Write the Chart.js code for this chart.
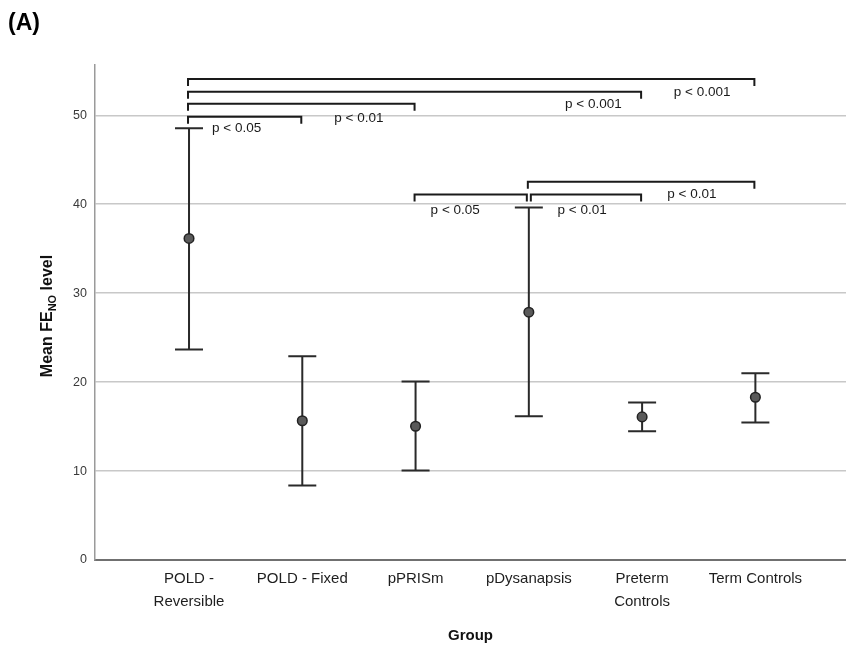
<!DOCTYPE html>
<html><head><meta charset="utf-8">
<script src="https://cdn.jsdelivr.net/npm/chart.js@4.4.0/dist/chart.umd.min.js"></script>
<style>html,body{margin:0;padding:0;background:#fff;overflow:hidden}canvas{display:block}</style>
</head><body>
<canvas id="c" width="846" height="647" style="width:846px;height:647px"></canvas>
<script>
// ---- data ----
const categories = [["POLD -", "Reversible"], "POLD - Fixed", "pPRISm", "pDysanapsis", ["Preterm", "Controls"], "Term Controls"];
const means = [36.15, 15.66, 15.04, 27.86, 16.09, 18.30];
const upper = [48.53, 22.91, 20.07, 39.64, 17.71, 21.00];
const lower = [23.67, 8.37, 10.06, 16.16, 14.48, 15.46];
const yTicks = [0, 10, 20, 30, 40, 50];
// significance brackets (category indices, bracket height, label, label anchor)
const bracketFrom = [0, 0, 0, 0, 2, 3, 3];
const bracketTo = [5, 4, 2, 1, 3, 4, 5];
const bracketLevel = [54.07, 52.64, 51.30, 49.83, 41.10, 41.10, 42.52];
const bracketLabels = ["p < 0.001", "p < 0.001", "p < 0.01", "p < 0.05", "p < 0.05", "p < 0.01", "p < 0.01"];
const labelAt = [4.53, 3.57, 1.50, 0.42, 2.35, 3.47, 4.44];
const labelLevel = [52.58, 51.26, 49.69, 48.56, 39.30, 39.30, 41.10];

const FONT = "'Liberation Sans', Arial, sans-serif";

const errorBarPlugin = {
  id: 'errorBars',
  beforeDatasetsDraw(chart) {
    const {ctx, scales: {x, y}} = chart;
    ctx.save();
    ctx.strokeStyle = '#2a2a2a';
    ctx.lineWidth = 2;
    const cap = 14;
    means.forEach((m, i) => {
      const px = x.getPixelForValue(i);
      const pu = y.getPixelForValue(upper[i]);
      const pl = y.getPixelForValue(lower[i]);
      ctx.beginPath();
      ctx.moveTo(px, pu); ctx.lineTo(px, pl);
      ctx.moveTo(px - cap, pu); ctx.lineTo(px + cap, pu);
      ctx.moveTo(px - cap, pl); ctx.lineTo(px + cap, pl);
      ctx.stroke();
    });
    ctx.restore();
  }
};

const bracketPlugin = {
  id: 'brackets',
  afterDatasetsDraw(chart) {
    const {ctx, scales: {x, y}} = chart;
    ctx.save();
    ctx.strokeStyle = '#1a1a1a';
    ctx.lineWidth = 2;
    const drop = 7;
    bracketFrom.forEach((f, k) => {
      const x1 = x.getPixelForValue(f) + (k === 5 ? 2 : -1);
      const x2 = x.getPixelForValue(bracketTo[k]) + (k === 4 ? -2 : -1);
      const py = y.getPixelForValue(bracketLevel[k]);
      ctx.beginPath();
      ctx.moveTo(x1, py + drop); ctx.lineTo(x1, py); ctx.lineTo(x2, py); ctx.lineTo(x2, py + drop);
      ctx.stroke();
    });
    ctx.fillStyle = '#1a1a1a';
    ctx.font = '13.5px ' + FONT;
    ctx.textAlign = 'center';
    ctx.textBaseline = 'middle';
    bracketLabels.forEach((t, k) => {
      ctx.fillText(t, x.getPixelForValue(labelAt[k]), y.getPixelForValue(labelLevel[k]));
    });
    ctx.restore();
  }
};

const titlePlugin = {
  id: 'titles',
  afterDraw(chart) {
    const {ctx} = chart;
    ctx.save();
    // panel letter
    ctx.fillStyle = '#000';
    ctx.font = 'bold 23px ' + FONT;
    ctx.textAlign = 'left';
    ctx.textBaseline = 'alphabetic';
    ctx.fillText('(A)', 8, 30);
    // y-axis title with subscript
    const main = 'bold 16px ' + FONT, sub = 'bold 11px ' + FONT;
    const parts = [['Mean FE', main, 0], ['NO', sub, 4], [' level', main, 0]];
    let total = 0;
    parts.forEach(p => { ctx.font = p[1]; total += ctx.measureText(p[0]).width; });
    ctx.translate(52, 316);
    ctx.rotate(-Math.PI / 2);
    ctx.fillStyle = '#111';
    let cx = -total / 2;
    parts.forEach(p => {
      ctx.font = p[1];
      ctx.fillText(p[0], cx, 0 + p[2]);
      cx += ctx.measureText(p[0]).width;
    });
    ctx.restore();
  }
};

new Chart(document.getElementById('c'), {
  type: 'scatter',
  data: {
    datasets: [{
      data: means.map((m, i) => ({x: i, y: m})),
      pointRadius: 4.8,
      pointHoverRadius: 4.8,
      backgroundColor: '#5a5a5a',
      borderColor: '#222',
      borderWidth: 1.5
    }]
  },
  options: {
    responsive: false,
    animation: false,
    devicePixelRatio: 1,
    layout: {autoPadding: false, padding: {top: 65, left: 0, right: 0, bottom: 0}},
    plugins: {legend: {display: false}, tooltip: {enabled: false}},
    scales: {
      x: {
        type: 'linear',
        min: -0.83,
        max: 5.80,
        afterFit(s) { s.height = 87; },
        afterBuildTicks(s) { s.ticks = categories.map((c, i) => ({value: i})); },
        grid: {display: false, drawTicks: false},
        border: {display: true, color: '#707070', width: 2},
        ticks: {
          autoSkip: false, maxRotation: 0, padding: 8,
          color: '#1e1e1e', font: {family: FONT, size: 15, lineHeight: 1.5},
          callback: (v, i) => categories[i]
        },
        title: {display: true, text: 'Group', color: '#111', font: {family: FONT, size: 15, weight: 'bold'}, padding: {top: 0, bottom: 2}}
      },
      y: {
        min: 0,
        max: 55.65,
        afterFit(s) { s.width = 95; },
        afterBuildTicks(s) { s.ticks = yTicks.map(v => ({value: v})); },
        grid: {color: '#c8c8c8', lineWidth: 1.5, drawTicks: false},
        border: {display: true, color: '#9a9a9a', width: 1.5},
        ticks: {padding: 8, color: '#3a3a3a', font: {family: FONT, size: 12.5}}
      }
    }
  },
  plugins: [errorBarPlugin, bracketPlugin, titlePlugin]
});
</script>
</body></html>
